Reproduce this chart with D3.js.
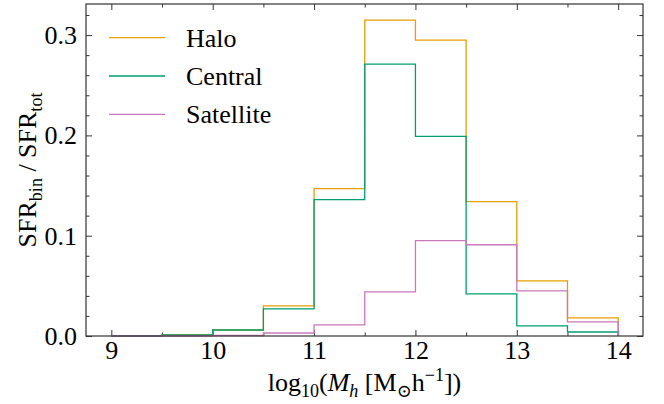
<!DOCTYPE html>
<html>
<head>
<meta charset="utf-8">
<script src="https://cdn.jsdelivr.net/npm/d3@7"></script>
<style>
  body { margin: 0; background: #fff; }
  text { font-family: "Liberation Serif", "DejaVu Serif", serif; fill: #000; }
</style>
</head>
<body>
<div id="chart"></div>
<script>
// bin edges (log10 Mh), 0.5 dex wide
var binEdges = [9.0, 9.5, 10.0, 10.5, 11.0, 11.5, 12.0, 12.5, 13.0, 13.5, 14.0];
var seriesNames = ["Halo", "Central", "Satellite"];
var haloVals      = [0.0, 0.001, 0.006, 0.030, 0.147, 0.315, 0.295, 0.134, 0.055, 0.018];
var centralVals   = [0.0, 0.001, 0.006, 0.027, 0.136, 0.271, 0.199, 0.042, 0.010, 0.004];
var satelliteVals = [0.0, 0.0, 0.0005, 0.003, 0.011, 0.044, 0.095, 0.091, 0.045, 0.014];
var seriesColors = ["#E69F00", "#029E73", "#CC78BC"];
var xTicks = [9, 10, 11, 12, 13, 14];
var yTicks = [0.0, 0.1, 0.2, 0.3];

var W = 664, H = 404;
var margin = {top: 4, right: 21, bottom: 68, left: 86},
    width = W - margin.left - margin.right,
    height = H - margin.top - margin.bottom;

var fs = 26, fsSub = 18;

var svg = d3.select("#chart").append("svg")
    .attr("width", W)
    .attr("height", H)
  .append("g")
    .attr("transform", "translate(" + margin.left + "," + margin.top + ")");

var x = d3.scaleLinear().domain([8.75, 14.245]).range([0, width]);
var y = d3.scaleLinear().domain([0, 0.331]).range([height, 0]);

// ticks, inward, on all four sides
var xMinor = d3.range(8.5, 14.51, 0.5).filter(function(d) { return d > 8.75 && d < 14.245 && d % 1 != 0; });
var yMinor = d3.range(0, 0.331, 0.02).filter(function(d) { return Math.abs(Math.round(d * 10) - d * 10) > 1e-6; });

function styleAxis(g) {
  g.select(".domain").remove();
  g.selectAll("line").attr("stroke", "#333").attr("stroke-width", 1);
  g.selectAll("text").style("font-size", fs + "px").style("font-family", "Liberation Serif, serif");
}

svg.append("g").attr("transform", "translate(0," + height + ")")
  .call(d3.axisBottom(x).tickValues(xTicks).tickSize(-6).tickPadding(5).tickFormat(d3.format("d")))
  .call(styleAxis);
svg.append("g").attr("transform", "translate(0," + height + ")")
  .call(d3.axisBottom(x).tickValues(xMinor).tickSize(-3.5).tickFormat(""))
  .call(styleAxis);
svg.append("g")
  .call(d3.axisTop(x).tickValues(xTicks).tickSize(-6).tickFormat(""))
  .call(styleAxis);
svg.append("g")
  .call(d3.axisTop(x).tickValues(xMinor).tickSize(-3.5).tickFormat(""))
  .call(styleAxis);

svg.append("g")
  .call(d3.axisLeft(y).tickValues(yTicks).tickSize(-6).tickPadding(9).tickFormat(d3.format(".1f")))
  .call(styleAxis);
svg.append("g")
  .call(d3.axisLeft(y).tickValues(yMinor).tickSize(-3.5).tickFormat(""))
  .call(styleAxis);
svg.append("g").attr("transform", "translate(" + width + ",0)")
  .call(d3.axisRight(y).tickValues(yTicks).tickSize(-6).tickFormat(""))
  .call(styleAxis);
svg.append("g").attr("transform", "translate(" + width + ",0)")
  .call(d3.axisRight(y).tickValues(yMinor).tickSize(-3.5).tickFormat(""))
  .call(styleAxis);

// step histograms
function stepPoints(vals) {
  var pts = [[binEdges[0], 0]];
  vals.forEach(function(v, i) {
    pts.push([binEdges[i], v]);
    pts.push([binEdges[i + 1], v]);
  });
  pts.push([binEdges[binEdges.length - 1], 0]);
  return pts;
}

var line = d3.line()
  .x(function(d) { return x(d[0]); })
  .y(function(d) { return y(d[1]); });

var allVals = [haloVals, centralVals, satelliteVals];
allVals.forEach(function(vals, i) {
  svg.append("path")
    .datum(stepPoints(vals))
    .attr("d", line)
    .attr("fill", "none")
    .attr("stroke", seriesColors[i])
    .attr("stroke-width", 1.3);
});

// frame
svg.append("rect")
  .attr("width", width)
  .attr("height", height)
  .attr("fill", "none")
  .attr("stroke", "#333")
  .attr("stroke-width", 1.2);

// legend
var legend = svg.append("g").attr("transform", "translate(23,33.7)");
seriesNames.forEach(function(name, i) {
  var g = legend.append("g").attr("transform", "translate(0," + (i * 38.3) + ")");
  g.append("line").attr("x1", 0).attr("x2", 56).attr("y1", 0).attr("y2", 0)
    .attr("stroke", seriesColors[i]).attr("stroke-width", 1.3);
  g.append("text").attr("x", 77).attr("y", 9).style("font-size", fs + "px").text(name);
});

// axis labels
var xl = svg.append("text")
  .attr("x", width / 2)
  .attr("y", height + 55)
  .attr("text-anchor", "middle")
  .style("font-size", fs + "px");
xl.append("tspan").text("log");
xl.append("tspan").attr("dy", 6).style("font-size", fsSub + "px").text("10");
xl.append("tspan").attr("dy", -6).text("(");
xl.append("tspan").style("font-style", "italic").text("M");
xl.append("tspan").attr("dy", 6).style("font-size", fsSub + "px").style("font-style", "italic").text("h");
xl.append("tspan").attr("dy", -6).text(" [M");
xl.append("tspan").attr("dy", 6).style("font-size", fsSub + "px").text("\u2299");
xl.append("tspan").attr("dy", -6).text("h");
xl.append("tspan").attr("dy", -10).style("font-size", fsSub + "px").text("\u22121");
xl.append("tspan").attr("dy", 10).text("])");

var yl = svg.append("text")
  .attr("transform", "translate(" + (-50) + "," + (height / 2) + ") rotate(-90)")
  .attr("text-anchor", "middle")
  .style("font-size", fs + "px");
yl.append("tspan").text("SFR");
yl.append("tspan").attr("dy", 6).style("font-size", fsSub + "px").text("bin");
yl.append("tspan").attr("dy", -6).text(" / SFR");
yl.append("tspan").attr("dy", 6).style("font-size", fsSub + "px").text("tot");
</script>
</body>
</html>
